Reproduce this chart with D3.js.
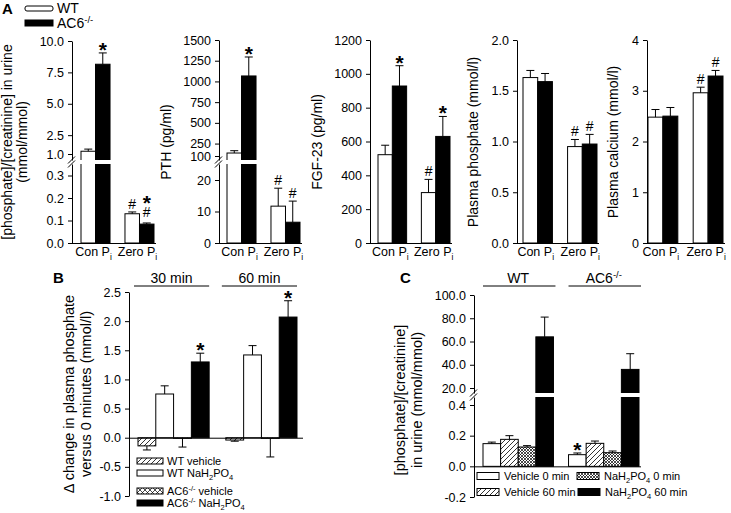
<!DOCTYPE html>
<html><head><meta charset="utf-8">
<script src="https://cdn.jsdelivr.net/npm/d3@7"></script>
<style>body{margin:0;background:#fff}svg{display:block;font-family:Arial,"Liberation Sans",sans-serif}</style>
</head><body>
<script>
// ---------------- DATA ----------------
const groupsA = ["Con", "Zero"];
const groupLabelsA = ["Con P{_i}", "Zero P{_i}"];
const seriesA = ["WT", "AC6-/-"];
const seriesLabelsA = ["WT", "AC6{^-/-}"];

// A1 urine [phosphate]/[creatinine]
const a1WT = [1.22, 0.130], a1WTerr = [0.17, 0.008];
const a1KO = [8.15, 0.084], a1KOerr = [0.90, 0.005];
const a1Marks = [["", "*"], ["#", "*#"]];
const a1LowTicks = [0, 0.1, 0.2, 0.3], a1HighTicks = [1, 2.5, 5, 7.5, 10];

// A2 PTH
const a2WT = [136, 11.7], a2WTerr = [28, 5.7];
const a2KO = [1066, 6.6], a2KOerr = [229, 6.7];
const a2Marks = [["", "*"], ["#", "#"]];
const a2LowTicks = [0, 10, 20], a2HighTicks = [100, 250, 500, 750, 1000, 1250, 1500];

// A3 FGF-23
const a3WT = [522, 298], a3WTerr = [56, 78];
const a3KO = [928, 630], a3KOerr = [120, 118];
const a3Marks = [["", "*"], ["#", "*"]];
const a3Ticks = [0, 200, 400, 600, 800, 1000, 1200];

// A4 plasma phosphate
const a4WT = [1.63, 0.95], a4WTerr = [0.07, 0.07];
const a4KO = [1.59, 0.975], a4KOerr = [0.08, 0.095];
const a4Marks = [["", ""], ["#", "#"]];
const a4Ticks = [0, 0.5, 1.0, 1.5, 2.0];

// A5 plasma calcium
const a5WT = [2.48, 2.96], a5WTerr = [0.15, 0.11];
const a5KO = [2.50, 3.29], a5KOerr = [0.17, 0.11];
const a5Marks = [["", ""], ["#", "#"]];
const a5Ticks = [0, 1, 2, 3, 4];

// B  change in plasma phosphate
const timesB = ["30 min", "60 min"];
const seriesB = ["WT vehicle", "WT NaH{_2}PO{_4}", "AC6{^-/-} vehicle", "AC6{^-/-} NaH{_2}PO{_4}"];
const bWTveh = [-0.14, -0.04], bWTvehErr = [0.07, 0.02];
const bWTna = [0.75, 1.42], bWTnaErr = [0.14, 0.16];
const bKOveh = [-0.01, -0.01], bKOvehErr = [0.15, 0.32];
const bKOna = [1.30, 2.07], bKOnaErr = [0.15, 0.28];
const bMarks = [["", "", "", "*"], ["", "", "", "*"]];
const bTicks = [-1.0, -0.5, 0.0, 0.5, 1.0, 1.5, 2.0, 2.5];

// C urine phosphate/creatinine after load
const groupsC = ["WT", "AC6{^-/-}"];
const seriesC = ["Vehicle 0 min", "Vehicle 60 min", "NaH{_2}PO{_4} 0 min", "NaH{_2}PO{_4} 60 min"];
const cVeh0 = [0.148, 0.076], cVeh0Err = [0.010, 0.011];
const cVeh60 = [0.176, 0.150], cVeh60Err = [0.024, 0.015];
const cNa0 = [0.126, 0.089], cNa0Err = [0.009, 0.011];
const cNa60 = [64, 36], cNa60Err = [17, 13.5];
const cMarks = [["", "", "", ""], ["*", "", "", ""]];
const cLowTicks = [-0.2, 0.0, 0.2, 0.4], cHighTicks = [20, 40, 60, 80, 100];

// ---------------- HELPERS ----------------
const svg = d3.select("body").append("svg").attr("width", 731).attr("height", 513);
const defs = svg.append("defs");
function pattern(id, size, paths, sw) {
  const p = defs.append("pattern").attr("id", id).attr("patternUnits", "userSpaceOnUse")
    .attr("width", size).attr("height", size);
  p.append("rect").attr("width", size).attr("height", size).attr("fill", "#fff");
  paths.forEach(d => p.append("path").attr("d", d).attr("stroke", "#000").attr("stroke-width", sw).attr("fill", "none"));
}
pattern("diag", 5, ["M-1,1 l2,-2 M0,5 l5,-5 M4,6 l2,-2"], 0.8);
pattern("cross", 5, ["M-1,1 l2,-2 M0,5 l5,-5 M4,6 l2,-2", "M-1,4 l2,2 M0,0 l5,5 M4,-1 l2,2"], 0.7);
pattern("dense", 3, ["M-1,1 l2,-2 M0,3 l3,-3 M2,4 l2,-2", "M-1,2 l2,2 M0,0 l3,3 M2,-1 l2,2"], 0.7);

function richText(parent, str, x, y, size, anchor) {
  const t = parent.append("text").attr("x", x).attr("y", y).attr("font-size", size)
    .attr("text-anchor", anchor || "start").attr("fill", "#000");
  const re = /\{([_^])([^}]*)\}/g;
  let last = 0, m; const parts = [];
  while ((m = re.exec(str))) {
    if (m.index > last) parts.push([str.slice(last, m.index), ""]);
    parts.push([m[2], m[1]]); last = re.lastIndex;
  }
  if (last < str.length) parts.push([str.slice(last), ""]);
  let shift = 0;
  parts.forEach(([s, type]) => {
    const target = type === "_" ? size * 0.28 : type === "^" ? -size * 0.38 : 0;
    t.append("tspan").attr("dy", target - shift).attr("font-size", type ? size * 0.68 : size).text(s);
    shift = target;
  });
  return t;
}
function yLabel(parent, str, bx, cy, size) {
  richText(parent, str, 0, 0, size, "middle").attr("transform", `translate(${bx},${cy}) rotate(-90)`);
}
const fmt1 = d => d.toFixed(1);
const fmt0 = d => String(d);

// broken/continuous scale builder
function makeY(L) {
  const low = d3.scaleLinear().domain(L.lowDom).range(L.lowRng);
  if (!L.highDom) return { low, high: null, y: v => low(v) };
  const high = d3.scaleLinear().domain(L.highDom).range(L.highRng);
  const lowMax = low.invert(L.gap[1]);
  const highMin = high.invert(L.gap[0]);
  low.domain([L.lowDom[0], lowMax]).range([L.lowRng[0], L.gap[1]]);
  high.domain([highMin, L.highDom[1]]).range([L.gap[0], L.highRng[1]]);
  return { low, high, y: v => v > lowMax ? high(v) : low(v) };
}
function drawAxis(g, x, scale, ticks, fmt) {
  const ax = g.append("g").attr("transform", `translate(${x},0)`)
    .call(d3.axisLeft(scale).tickValues(ticks).tickFormat(fmt).tickSize(4).tickSizeOuter(0).tickPadding(4));
  ax.attr("font-family", null).attr("font-size", null);
  ax.selectAll("text").attr("font-size", 12.5).attr("fill", "#000");
  ax.selectAll("path,line").attr("stroke", "#000");
}
function drawBreak(g, ax, x2, gap) {
  g.append("rect").attr("x", ax - 7).attr("y", gap[0]).attr("width", x2 - ax + 9)
    .attr("height", gap[1] - gap[0]).attr("fill", "#fff");
}
function breakMarks(g, ax, gap) {
  [gap[0], gap[1]].forEach(e => g.append("line").attr("x1", ax - 4).attr("y1", e + 3.5)
    .attr("x2", ax + 3).attr("y2", e - 3.5).attr("stroke", "#000").attr("stroke-width", 1));
}
function bar(g, x, w, v, e, fill, Y) {
  g.append("rect").attr("x", x).attr("y", Math.min(Y(v), Y(0))).attr("width", w)
    .attr("height", Math.abs(Y(0) - Y(v))).attr("fill", fill).attr("stroke", "#000").attr("stroke-width", 1);
  const cx = x + w / 2, tip = v >= 0 ? v + e : v - e;
  g.append("line").attr("x1", cx).attr("x2", cx).attr("y1", Y(v)).attr("y2", Y(tip)).attr("stroke", "#000");
  g.append("line").attr("x1", cx - 4).attr("x2", cx + 4).attr("y1", Y(tip)).attr("y2", Y(tip)).attr("stroke", "#000");
  return { cx, top: Y(tip) };
}
function mark(g, cx, top, m) {
  const stacked = m.length > 1;
  let y = top - (stacked ? 6 : 3);
  for (let i = m.length - 1; i >= 0; i--) {
    const c = m[i];
    if (c === "#") {
      g.append("text").attr("x", cx).attr("y", y).attr("text-anchor", "middle").attr("font-size", 14).text("#");
      y -= 14;
    } else {
      g.append("text").attr("x", cx).attr("y", y + 7).attr("text-anchor", "middle")
        .attr("font-size", 21).attr("font-weight", "bold").text("*");
      y -= 11;
    }
  }
}

// ---------------- PANEL A ----------------
const dataA = [
  { wt: a1WT, wtE: a1WTerr, ko: a1KO, koE: a1KOerr, mk: a1Marks, lowT: a1LowTicks, highT: a1HighTicks, fmt: fmt1,
    label: ["[phosphate]/[creatinine] in urine", "(mmol/mmol)"] },
  { wt: a2WT, wtE: a2WTerr, ko: a2KO, koE: a2KOerr, mk: a2Marks, lowT: a2LowTicks, highT: a2HighTicks, fmt: fmt0,
    label: ["PTH (pg/ml)"] },
  { wt: a3WT, wtE: a3WTerr, ko: a3KO, koE: a3KOerr, mk: a3Marks, lowT: a3Ticks, fmt: fmt0, label: ["FGF-23 (pg/ml)"] },
  { wt: a4WT, wtE: a4WTerr, ko: a4KO, koE: a4KOerr, mk: a4Marks, lowT: a4Ticks, fmt: fmt1, label: ["Plasma phosphate (mmol/l)"] },
  { wt: a5WT, wtE: a5WTerr, ko: a5KO, koE: a5KOerr, mk: a5Marks, lowT: a5Ticks, fmt: fmt0, label: ["Plasma calcium (mmol/l)"] }
];
const layoutA = [
  { axisX: 72, bars: [81, 154], lab: [12, 27], lowDom: [0, 0.3], lowRng: [243, 175.5], highDom: [1, 10], highRng: [154, 41], gap: [160, 164] },
  { axisX: 219, bars: [227, 300], lab: [171], lowDom: [0, 20], lowRng: [243, 180], highDom: [100, 1500], highRng: [156, 40], gap: [160, 164] },
  { axisX: 370, bars: [378, 450], lab: [322], lowDom: [0, 1200], lowRng: [243, 40] },
  { axisX: 517, bars: [523, 597], lab: [478], lowDom: [0, 2], lowRng: [243, 40] },
  { axisX: 647, bars: [648, 723], lab: [618], lowDom: [0, 4], lowRng: [243, 40] }
];
dataA.forEach((D, i) => {
  const L = layoutA[i];
  const g = svg.append("g");
  const S = makeY(L);
  const xg = d3.scaleBand().domain(groupsA).range(L.bars).paddingInner(0.34).paddingOuter(0);
  const xs = d3.scaleBand().domain(seriesA).range([0, xg.bandwidth()]);
  const tops = [];
  groupsA.forEach((grp, gi) => {
    seriesA.forEach((s, si) => {
      const v = si === 0 ? D.wt[gi] : D.ko[gi], e = si === 0 ? D.wtE[gi] : D.koE[gi];
      const r = bar(g, xg(grp) + xs(s), xs.bandwidth(), v, e, si === 0 ? "#fff" : "#000", S.y);
      tops.push([r, D.mk[gi][si]]);
    });
    richText(g, groupLabelsA[gi], xg(grp) + xg.bandwidth() / 2 - 2, 256, 12.5, "middle");
  });
  if (S.high) drawBreak(g, L.axisX, L.bars[1], L.gap);
  drawAxis(g, L.axisX, S.low, D.lowT, D.fmt);
  if (S.high) {
    drawAxis(g, L.axisX, S.high, D.highT, D.fmt);
    breakMarks(g, L.axisX, L.gap);
  }
  g.append("line").attr("x1", L.axisX).attr("x2", L.bars[1] + 2).attr("y1", S.y(0) + 0.5).attr("y2", S.y(0) + 0.5).attr("stroke", "#000");
  tops.forEach(([r, m]) => { if (m) mark(g, r.cx, r.top, m); });
  D.label.forEach((t, k) => yLabel(g, t, L.lab[k], 142, 14));
});
// Panel A letter + legend
svg.append("text").attr("x", 2).attr("y", 14).attr("font-size", 15).attr("font-weight", "bold").text("A");
const legA = svg.append("g");
seriesA.forEach((s, si) => {
  const yy = si === 0 ? 6 : 20;
  legA.append("rect").attr("x", 25).attr("y", yy).attr("width", 28).attr("height", si === 0 ? 5 : 6)
    .attr("fill", si === 0 ? "#fff" : "#000").attr("stroke", "#000").attr("rx", si === 0 ? 2 : 0);
  richText(legA, seriesLabelsA[si], 57, si === 0 ? 13 : 28, 14, "start");
});

// ---------------- PANEL B ----------------
{
  const g = svg.append("g");
  const axisX = 129;
  const Y = d3.scaleLinear().domain([-1, 2.5]).range([496, 292]);
  const xg = d3.scaleBand().domain(timesB).range([138, 297]).paddingInner(0.19).paddingOuter(0);
  const xs = d3.scaleBand().domain(seriesB).range([0, xg.bandwidth()]);
  const vals = [bWTveh, bWTna, bKOveh, bKOna], errs = [bWTvehErr, bWTnaErr, bKOvehErr, bKOnaErr];
  const fills = ["url(#diag)", "#fff", "url(#cross)", "#000"];
  const tops = [];
  timesB.forEach((t, ti) => {
    seriesB.forEach((s, si) => {
      const r = bar(g, xg(t) + xs(s), xs.bandwidth(), vals[si][ti], errs[si][ti], fills[si], Y);
      tops.push([r, bMarks[ti][si]]);
    });
    const gx = xg(t);
    g.append("line").attr("x1", gx - 4).attr("x2", gx + xg.bandwidth()).attr("y1", 286).attr("y2", 286).attr("stroke", "#000");
    richText(g, t, gx + xg.bandwidth() / 2 - 2, 283, 14, "middle");
  });
  drawAxis(g, axisX, Y, bTicks, fmt1);
  g.append("line").attr("x1", axisX).attr("x2", 303).attr("y1", Y(0) + 0.5).attr("y2", Y(0) + 0.5).attr("stroke", "#000");
  tops.forEach(([r, m]) => { if (m) mark(g, r.cx, r.top, m); });
  yLabel(g, "\u0394 change in plasma phosphate", 74, 394, 14.5);
  yLabel(g, "versus 0 minutes (mmol/l)", 91, 394, 14.5);
  g.append("text").attr("x", 53).attr("y", 283).attr("font-size", 15).attr("font-weight", "bold").text("B");
  const rows = [461, 473, 491, 503];
  seriesB.forEach((s, si) => {
    g.append("rect").attr("x", 137).attr("y", rows[si] - 3).attr("width", 26).attr("height", 6)
      .attr("fill", fills[si]).attr("stroke", "#000");
    richText(g, s, 167, rows[si] + 4, 11, "start");
  });
}

// ---------------- PANEL C ----------------
{
  const g = svg.append("g");
  const L = { axisX: 474, lowDom: [-0.2, 0.4], lowRng: [497, 405], highDom: [20, 100], highRng: [388, 295], gap: [393, 397] };
  const S = makeY(L);
  const xg = d3.scaleBand().domain(groupsC).range([483, 639]).paddingInner(0.176).paddingOuter(0);
  const xs = d3.scaleBand().domain(seriesC).range([0, xg.bandwidth()]);
  const vals = [cVeh0, cVeh60, cNa0, cNa60], errs = [cVeh0Err, cVeh60Err, cNa0Err, cNa60Err];
  const fills = ["#fff", "url(#diag)", "url(#dense)", "#000"];
  const tops = [];
  groupsC.forEach((grp, gi) => {
    seriesC.forEach((s, si) => {
      const r = bar(g, xg(grp) + xs(s), xs.bandwidth(), vals[si][gi], errs[si][gi], fills[si], S.y);
      tops.push([r, cMarks[gi][si]]);
    });
    const gx = xg(grp);
    g.append("line").attr("x1", gx).attr("x2", gx + xg.bandwidth() + 2).attr("y1", 286).attr("y2", 286).attr("stroke", "#000");
    richText(g, grp, gx + xg.bandwidth() / 2, 283, 14, "middle");
  });
  drawBreak(g, L.axisX, 641, L.gap);
  drawAxis(g, L.axisX, S.low, cLowTicks, fmt1);
  drawAxis(g, L.axisX, S.high, cHighTicks, fmt1);
  breakMarks(g, L.axisX, L.gap);
  g.append("line").attr("x1", L.axisX).attr("x2", 641).attr("y1", S.y(0) + 0.5).attr("y2", S.y(0) + 0.5).attr("stroke", "#000");
  tops.forEach(([r, m]) => { if (m) mark(g, r.cx, r.top, m); });
  yLabel(g, "[phosphate]/[creatinine]", 405, 400, 14.5);
  yLabel(g, "in urine (mmol/mmol)", 422, 400, 14.5);
  g.append("text").attr("x", 400).attr("y", 283).attr("font-size", 15).attr("font-weight", "bold").text("C");
  const pos = [[477, 476], [477, 492], [577, 476], [578, 492]];
  seriesC.forEach((s, si) => {
    const [px, py] = pos[si];
    g.append("rect").attr("x", px).attr("y", py - 3.5).attr("width", 22).attr("height", 7)
      .attr("fill", fills[si]).attr("stroke", "#000");
    richText(g, s, px + 27, py + 4, 11, "start");
  });
}
</script>
</body></html>
